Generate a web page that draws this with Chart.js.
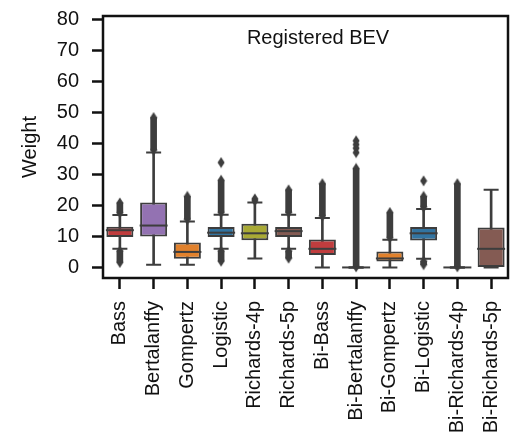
<!DOCTYPE html>
<html lang="en">
<head>
<meta charset="UTF-8">
<title>Registered BEV - model weights</title>
<script src="https://cdn.jsdelivr.net/npm/chart.js@4.4.1/dist/chart.umd.min.js"></script>
<style>
  html, body { margin: 0; padding: 0; background: #fff; }
  canvas { display: block; }
</style>
</head>
<body>
<canvas id="boxChart" width="524" height="443"></canvas>
<script>
// one box per fitted model
const models = ['Bass', 'Bertalanffy', 'Gompertz', 'Logistic', 'Richards-4p', 'Richards-5p',
                'Bi-Bass', 'Bi-Bertalanffy', 'Bi-Gompertz', 'Bi-Logistic', 'Bi-Richards-4p', 'Bi-Richards-5p'];

const q1      = [9.8, 10.0, 2.8, 9.8, 8.8, 9.8, 4.0, 0, 1.9, 8.7, 0, 0];
const medians = [12.0, 13.5, 5.0, 11.2, 11.0, 11.7, 6.0, 0, 2.9, 11.0, 0, 6.0];
const q3      = [13.1, 20.9, 8.0, 13.0, 14.1, 13.0, 9.0, 0, 5.1, 13.0, 0, 12.9];
const whiskLo = [6.0, 0.9, 0.9, 6.0, 2.9, 6.0, 0, 0, 0, 2.8, 0, 0];
const whiskHi = [16.9, 37.0, 14.8, 17.0, 20.9, 17.0, 15.9, 0, 8.9, 18.8, 0, 25.0];

// dense runs of outliers, [first, last]
const fliersUpper = [[17.6, 20.8], [37.8, 48.3], [15.5, 22.9], [17.7, 28.1], null, [17.7, 25.0],
                     [16.6, 27.0], [0.2, 31.9], [9.6, 17.7], [19.5, 22.9], [0.2, 27.0], null];
const fliersLower = [[1.6, 5.3], null, null, [2.0, 5.3], null, [3.0, 5.3],
                     null, null, null, [0.9, 2.0], null, null];
// isolated outliers
const fliersSingle = [[], [], [], [33.8], [21.5, 22.1], [],
                      [], [37.0, 38.4, 39.6, 40.8], [], [27.9], [], []];

const yTicks = [0, 10, 20, 30, 40, 50, 60, 70, 80];

const palette = ['#c03d3e', '#9372b2', '#e1812c', '#3274a1', '#a9aa35', '#845b53'];
const boxColors = models.map((_, i) => palette[i % palette.length]);
const edge = '#3d3d3d';
const ink = '#111111';

Chart.defaults.font.family = '"Liberation Sans", Arial, Helvetica, sans-serif';
Chart.defaults.font.size = 20;
Chart.defaults.color = ink;

// thin diamond marker for the fliers
const diamond = document.createElement('canvas');
diamond.width = 8;
diamond.height = 12;
(function () {
    const c = diamond.getContext('2d');
    c.fillStyle = edge;
    c.beginPath();
    c.moveTo(4, 0.5);
    c.lineTo(7.5, 6);
    c.lineTo(4, 11.5);
    c.lineTo(0.5, 6);
    c.closePath();
    c.fill();
})();

const flierPoints = [];
models.forEach((m, i) => {
    [fliersUpper[i], fliersLower[i]].forEach(run => {
        if (run) {
            flierPoints.push({x: m, y: run[0]}, {x: m, y: run[1]});
        }
    });
    fliersSingle[i].forEach(v => flierPoints.push({x: m, y: v}));
});

const capPoints = [];
models.forEach((m, i) => {
    capPoints.push({x: m, y: whiskLo[i]}, {x: m, y: whiskHi[i]});
});

// axes frame plus the panel label
const framePlugin = {
    id: 'frame',
    afterDraw(chart) {
        const {ctx, chartArea: a} = chart;
        ctx.save();
        ctx.strokeStyle = ink;
        ctx.lineWidth = 2.5;
        ctx.strokeRect(a.left, a.top, a.right - a.left, a.bottom - a.top);
        ctx.fillStyle = ink;
        ctx.font = '20px "Liberation Sans", Arial, sans-serif';
        ctx.textAlign = 'center';
        ctx.textBaseline = 'alphabetic';
        ctx.fillText('Registered BEV', a.left + 0.531 * (a.right - a.left), a.top + 28);
        ctx.restore();
    }
};

const tickGrid = {
    display: true,
    drawOnChartArea: false,
    drawTicks: true,
    tickLength: 11,
    tickWidth: 2.5,
    tickColor: ink
};

new Chart(document.getElementById('boxChart'), {
    data: {
        labels: models,
        datasets: [
            {
                type: 'line',
                label: 'median',
                data: models.map((m, i) => ({x: m, y: medians[i]})),
                showLine: false,
                pointStyle: 'line',
                pointRadius: 14,
                pointBorderWidth: 2,
                pointBorderColor: edge,
                order: 0
            },
            {
                type: 'line',
                label: 'caps',
                data: capPoints,
                showLine: false,
                pointStyle: 'line',
                pointRadius: 7.5,
                pointBorderWidth: 2,
                pointBorderColor: edge,
                order: 1
            },
            {
                type: 'bar',
                label: 'box',
                data: models.map((_, i) => [q1[i], q3[i]]),
                backgroundColor: boxColors,
                borderColor: edge,
                borderWidth: 2,
                borderSkipped: false,
                barPercentage: 0.8,
                categoryPercentage: 1,
                grouped: false,
                order: 2
            },
            {
                type: 'bar',
                label: 'whisker',
                data: models.map((_, i) => [whiskLo[i], whiskHi[i]]),
                backgroundColor: edge,
                barThickness: 2,
                grouped: false,
                order: 3
            },
            {
                type: 'bar',
                label: 'fliers upper',
                data: fliersUpper,
                backgroundColor: edge,
                barThickness: 6,
                grouped: false,
                order: 4
            },
            {
                type: 'bar',
                label: 'fliers lower',
                data: fliersLower,
                backgroundColor: edge,
                barThickness: 6,
                grouped: false,
                order: 4
            },
            {
                type: 'line',
                label: 'fliers',
                data: flierPoints,
                showLine: false,
                pointStyle: diamond,
                pointRadius: 5,
                order: 5
            }
        ]
    },
    options: {
        responsive: false,
        animation: false,
        events: [],
        layout: {padding: {top: 7, right: 1.5, bottom: 0, left: 0}},
        plugins: {
            legend: {display: false},
            tooltip: {enabled: false}
        },
        scales: {
            x: {
                type: 'category',
                offset: true,
                grid: Object.assign({offset: false}, tickGrid),
                border: {display: false},
                ticks: {minRotation: 90, maxRotation: 90, autoSkip: false, padding: 12, color: ink},
                afterFit(s) {
                    s.height = 165;
                    s.paddingLeft = 0;
                    s.paddingRight = 0;
                }
            },
            y: {
                type: 'linear',
                min: -3.4,
                max: 81,
                afterBuildTicks(s) {
                    s.ticks = yTicks.map(v => ({value: v}));
                },
                grid: tickGrid,
                border: {display: false},
                ticks: {padding: 13, color: ink},
                title: {display: true, text: 'Weight', color: ink, padding: {top: 18, bottom: 0}},
                afterFit(s) {
                    s.width = 103;
                    s.paddingTop = 0;
                    s.paddingBottom = 0;
                }
            }
        }
    },
    plugins: [framePlugin]
});
</script>
</body>
</html>
